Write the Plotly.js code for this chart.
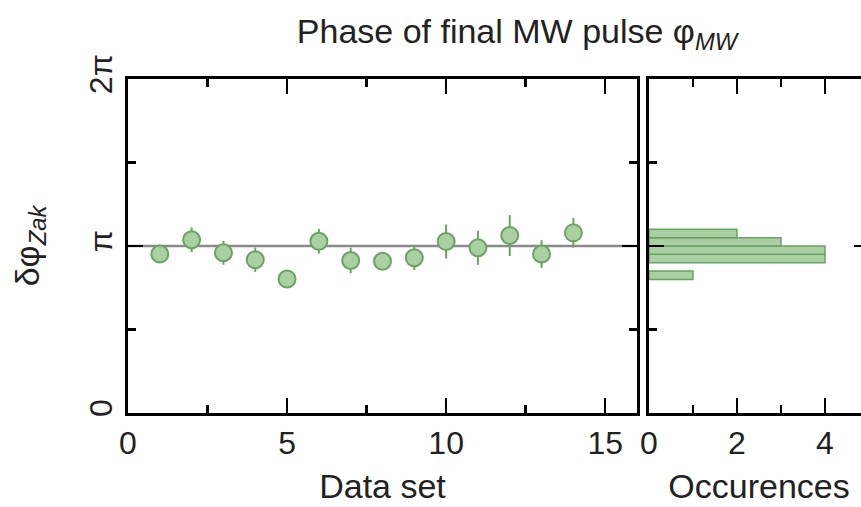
<!DOCTYPE html>
<html>
<head>
<meta charset="utf-8">
<script src="https://cdn.plot.ly/plotly-3.0.1.min.js"></script>
<style>
html, body { margin: 0; padding: 0; overflow: hidden; background: #fff; }
#chart { width: 880px; height: 507px; }
</style>
</head>
<body>
<div id="chart"></div>
<script>
// ---- data ----
const dataSet = [1, 2, 3, 4, 5, 6, 7, 8, 9, 10, 11, 12, 13, 14];
const phase = [2.99, 3.258, 3.014, 2.883, 2.52, 3.231, 2.869, 2.856, 2.920, 3.226, 3.108, 3.338, 2.99, 3.389];
const phaseErr = [0.12, 0.234, 0.225, 0.23, 0.12, 0.23, 0.24, 0.12, 0.23, 0.32, 0.32, 0.385, 0.26, 0.28];
const yTickVals = [0, Math.PI, 2 * Math.PI];
const yTickText = ['0', 'π', '2π'];
const xTickVals = [0, 5, 10, 15];
const histTickVals = [0, 2, 4];
const referenceLevel = Math.PI;
const binSize = Math.PI / 20;

const green = '#6ba365';
const greenFill = '#aacfa2';
const font = 'Liberation Sans, Arial, sans-serif';

const scatter = {
  type: 'scatter', mode: 'markers',
  x: dataSet, y: phase,
  error_y: { type: 'data', array: phaseErr, visible: true, color: green, thickness: 2, width: 0 },
  marker: { size: 17, color: greenFill, line: { color: green, width: 2 } },
  xaxis: 'x', yaxis: 'y', hoverinfo: 'x+y'
};

const hist = {
  type: 'histogram', orientation: 'h',
  y: phase,
  ybins: { start: 0, end: 2 * Math.PI, size: binSize },
  marker: { color: greenFill, line: { color: green, width: 1.5 } },
  xaxis: 'x2', yaxis: 'y2'
};

const common = {
  showline: true, linecolor: '#000', linewidth: 3, mirror: 'ticks',
  ticks: 'inside', tickcolor: '#000', tickwidth: 2.5, ticklen: 15,
  showgrid: false, zeroline: false, automargin: false,
  tickfont: { family: font, size: 32, color: '#222' }
};

const yCommon = Object.assign({}, common, {
  range: [0, 2 * Math.PI], tickmode: 'array', tickvals: yTickVals, ticktext: yTickText,
  minor: { tick0: 0, dtick: Math.PI / 2, ticks: 'inside', ticklen: 8, tickwidth: 2.5, tickcolor: '#000', showgrid: false }
});

const layout = {
  width: 880, height: 507,
  margin: { l: 128, r: 11, t: 79, b: 94 },
  paper_bgcolor: '#fff', plot_bgcolor: '#fff',
  showlegend: false,
  font: { family: font, color: '#222' },
  title: {
    text: 'Phase of final MW pulse φ<sub><i>MW</i></sub>',
    font: { family: font, size: 34, color: '#222' },
    x: 517 / 880, xanchor: 'center', xref: 'container',
    y: 1 - 31 / 507, yanchor: 'middle', yref: 'container'
  },
  xaxis: Object.assign({}, common, {
    domain: [0, 509 / 741], range: [0, 16], tickmode: 'array', tickvals: xTickVals,
    minor: { tick0: 0, dtick: 2.5, ticks: 'inside', ticklen: 8, tickwidth: 2.5, tickcolor: '#000', showgrid: false },
    title: { text: 'Data set', font: { family: font, size: 34, color: '#222' }, standoff: 14 },
    anchor: 'y'
  }),
  yaxis: Object.assign({}, yCommon, {
    domain: [0, 1], tickangle: -90,
    title: { text: 'δφ<sub><i>Zak</i></sub>', font: { family: font, size: 34, color: '#222' }, standoff: 34 },
    anchor: 'x'
  }),
  xaxis2: Object.assign({}, common, {
    domain: [521 / 741, 1], range: [0, 5], tickmode: 'array', tickvals: histTickVals,
    minor: { tick0: 0, dtick: 1, ticks: 'inside', ticklen: 8, tickwidth: 2.5, tickcolor: '#000', showgrid: false },
    title: { text: 'Occurences', font: { family: font, size: 34, color: '#222' }, standoff: 14 },
    anchor: 'y2'
  }),
  yaxis2: Object.assign({}, yCommon, {
    domain: [0, 1], showticklabels: false, anchor: 'x2'
  }),
  bargap: 0,
  shapes: [{
    type: 'line', xref: 'x domain', yref: 'y', x0: 0, x1: 1, y0: referenceLevel, y1: referenceLevel,
    line: { color: '#8a8a8a', width: 2.5 }, layer: 'below'
  }]
};

Plotly.newPlot('chart', [scatter, hist], layout, { displayModeBar: false, staticPlot: true });
</script>
</body>
</html>
